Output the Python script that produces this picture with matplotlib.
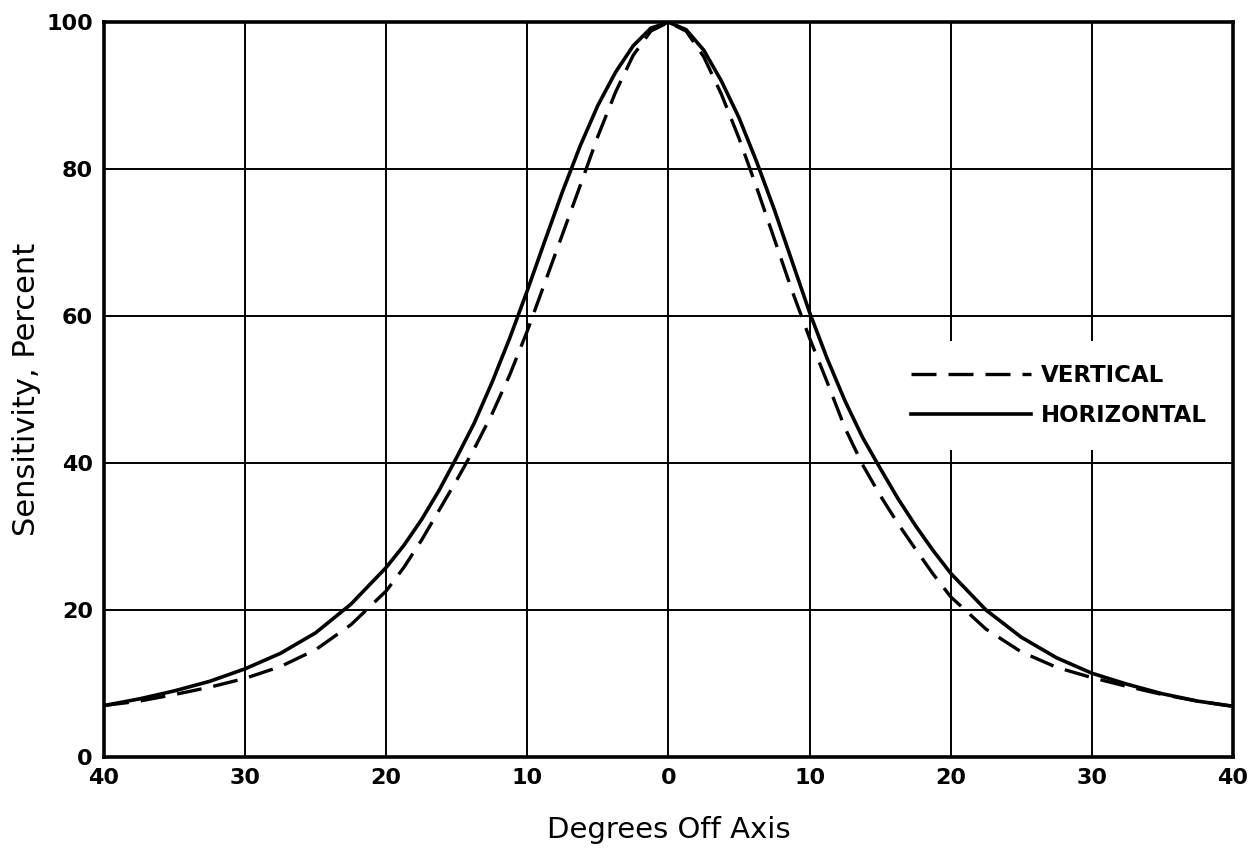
import matplotlib.pyplot as plt

# Degrees off axis (negative = left half of the plot)
degrees = [-40, -37.5, -35, -32.5, -30, -27.5, -25, -22.5, -20, -18.75, -17.5,
           -16.25, -15, -13.75, -12.5, -11.25, -10, -8.75, -7.5, -6.25, -5,
           -3.75, -2.5, -1.25, 0, 1.25, 2.5, 3.75, 5, 6.25, 7.5, 8.75, 10,
           11.25, 12.5, 13.75, 15, 16.25, 17.5, 18.75, 20, 22.5, 25, 27.5, 30,
           32.5, 35, 37.5, 40]

# Sensitivity in percent
horizontal = [7.0, 7.9, 9.0, 10.3, 12.0, 14.1, 16.9, 20.8, 25.8, 28.8, 32.3,
              36.3, 40.8, 45.5, 51.0, 57.0, 63.5, 70.3, 77.0, 83.2, 88.7,
              93.2, 96.8, 99.2, 100, 99.0, 96.2, 92.0, 87.0, 81.0, 74.5, 67.5,
              60.5, 54.2, 48.5, 43.5, 39.3, 35.2, 31.5, 28.1, 25.0, 20.0, 16.3,
              13.5, 11.4, 9.9, 8.6, 7.6, 6.9]
vertical = [7.0, 7.6, 8.5, 9.5, 10.7, 12.3, 14.6, 18.0, 22.6, 25.8, 29.5,
            33.6, 37.7, 42.0, 46.7, 52.0, 58.0, 64.6, 71.2, 77.8, 84.5, 90.5,
            95.5, 98.8, 100, 98.8, 95.3, 90.2, 84.2, 77.5, 70.5, 63.5, 57.0,
            51.0, 44.8, 39.8, 35.6, 31.8, 28.3, 24.9, 21.8, 17.4, 14.3, 12.2,
            10.8, 9.6, 8.5, 7.6, 6.9]

x_ticks = [-40, -30, -20, -10, 0, 10, 20, 30, 40]
x_tick_labels = ["40", "30", "20", "10", "0", "10", "20", "30", "40"]
y_ticks = [0, 20, 40, 60, 80, 100]

fig = plt.figure(figsize=(12.53, 8.56), dpi=100)
ax = fig.add_axes([0.083, 0.1157, 0.901, 0.8583])

ax.plot(degrees, vertical, color="black", lw=2.4,
        linestyle=(0, (7.5, 3.6)), label="VERTICAL")
ax.plot(degrees, horizontal, color="black", lw=2.6, label="HORIZONTAL")

ax.set_xlim(-40, 40)
ax.set_ylim(0, 100)
ax.set_xticks(x_ticks)
ax.set_xticklabels(x_tick_labels)
ax.set_yticks(y_ticks)

ax.grid(True, color="black", lw=1.4)
ax.tick_params(length=0, pad=8, labelsize=16)
for lab in ax.get_xticklabels() + ax.get_yticklabels():
    lab.set_fontweight("bold")

for sp in ax.spines.values():
    sp.set_linewidth(2.6)

ax.set_xlabel("Degrees Off Axis", fontsize=21, labelpad=20)
ax.set_ylabel("Sensitivity, Percent", fontsize=22, labelpad=4)

leg = ax.legend(loc="center", bbox_to_anchor=(0.846, 0.4925), frameon=True,
                fancybox=False, handlelength=5.2, handletextpad=0.45,
                labelspacing=0.75, borderpad=1.0,
                prop={"weight": "bold", "size": 16.5})
leg.get_frame().set_facecolor("white")
leg.get_frame().set_edgecolor("none")
leg.get_frame().set_alpha(1)

plt.savefig("out.png", dpi=100)
